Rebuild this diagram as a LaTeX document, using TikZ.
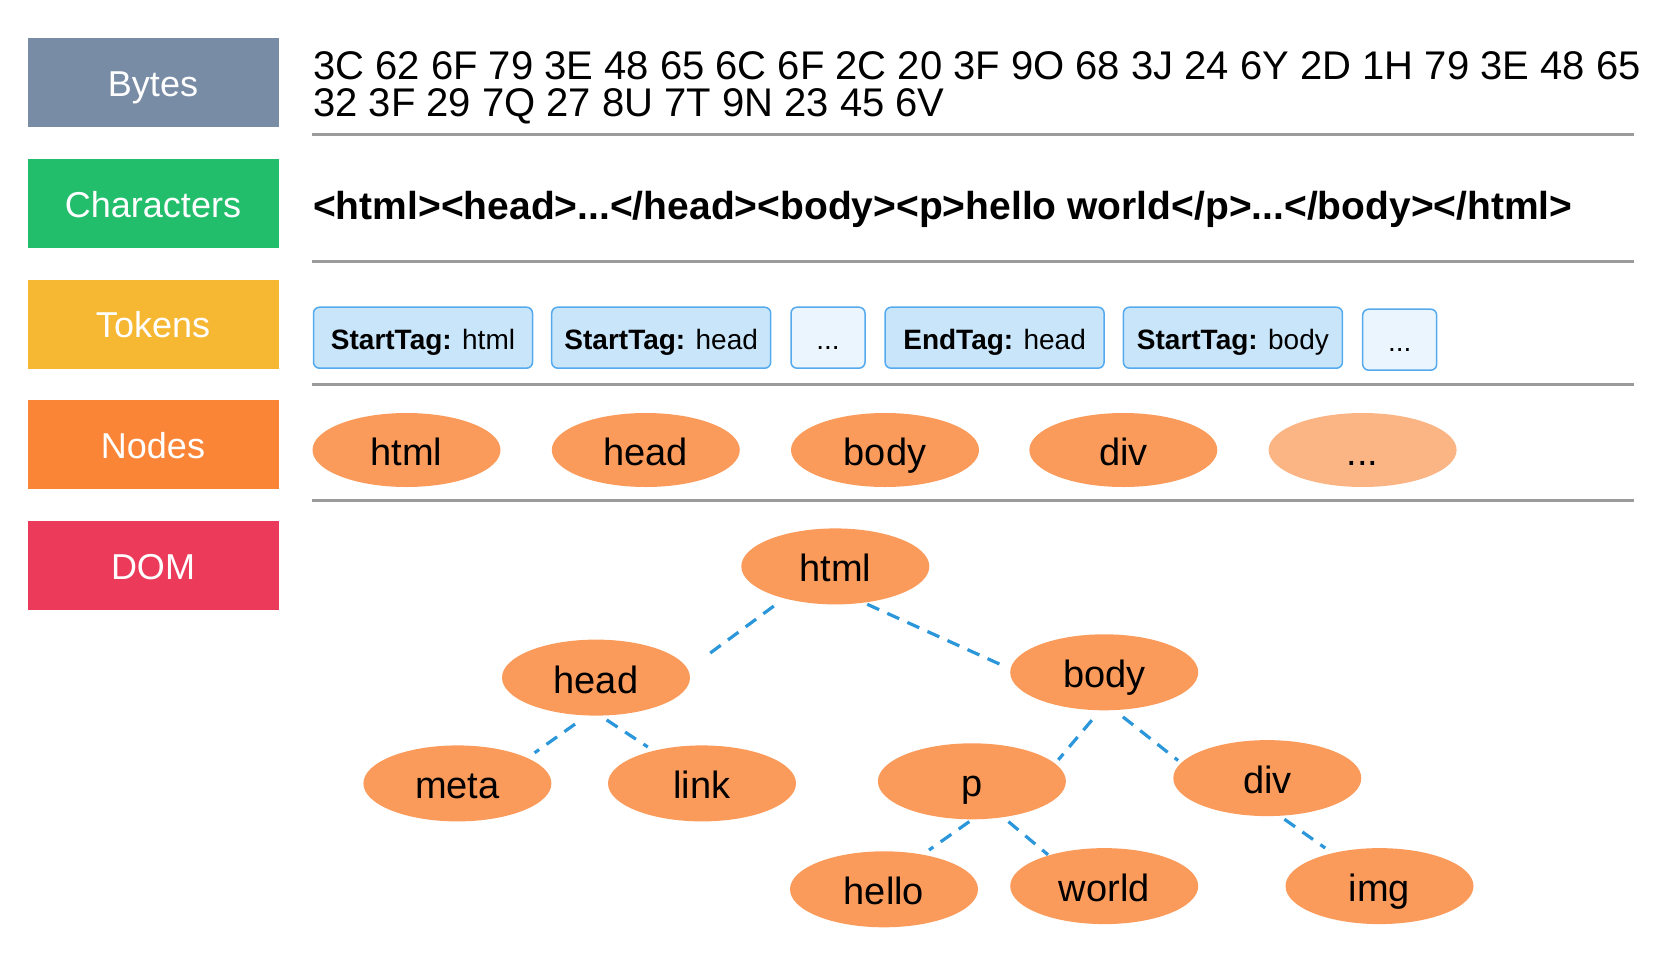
\documentclass[tikz,border=0pt]{standalone}
\usepackage{fontspec}
\setmainfont{Liberation Sans}
\usetikzlibrary{shapes.geometric}

\definecolor{BytesColor}{HTML}{788CA6}
\definecolor{CharsColor}{HTML}{22BE6C}
\definecolor{TokensColor}{HTML}{F6B733}
\definecolor{NodesColor}{HTML}{FB8537}
\definecolor{DomColor}{HTML}{EB3A5A}
\definecolor{EllFill}{HTML}{FB9B5B}
\definecolor{EllFaded}{HTML}{FBB585}
\definecolor{TokFill}{HTML}{C8E5FA}
\definecolor{TokLight}{HTML}{EAF5FD}
\definecolor{TokBorder}{HTML}{55AAEE}
\definecolor{EdgeBlue}{HTML}{2B96DA}
\definecolor{RuleGray}{HTML}{9B9B9B}

\begin{document}
\begin{tikzpicture}[x = 1pt, y = 1pt]
\tikzstyle{LabelBox}=[shape = rectangle, minimum width = 251pt, minimum height = 89pt,
                      inner sep = 0pt, text height = 27.5pt, text depth = 0pt,
                      text = white, font = \fontsize{36}{40}\selectfont]
\tikzstyle{TokenStyle}=[shape = rectangle, rounded corners = 6pt, draw = TokBorder,
                        line width = 1.5pt, fill = TokFill, minimum width = 219pt,
                        minimum height = 61pt, inner sep = 0pt,
                        text height = 23pt, text depth = 0pt,
                        font = \fontsize{28}{32}\selectfont]
\tikzstyle{VertexStyle}=[shape = ellipse, fill = EllFill, minimum width = 188pt,
                         minimum height = 76pt, inner sep = 0pt, outer sep = 0pt,
                         text height = 31pt, text depth = 0pt,
                         font = \fontsize{38}{42}\selectfont]
\tikzstyle{EdgeStyle}=[draw = EdgeBlue, line width = 3.2pt, dash pattern = on 13pt off 9pt]
\tikzstyle{RuleStyle}=[draw = RuleGray, line width = 3pt]

\useasboundingbox (0, 0) rectangle (1660, -975);

% left column
\node[LabelBox, fill = BytesColor] (bytes) at (153, -82.5) {Bytes};
\node[LabelBox, fill = CharsColor] (chars) at (153, -203.25) {Characters};
\node[LabelBox, fill = TokensColor] (tokens) at (153, -324) {Tokens};
\node[LabelBox, fill = NodesColor] (nodes) at (153, -444.75) {Nodes};
\node[LabelBox, fill = DomColor] (dom) at (153, -565.5) {DOM};

% rules
\draw[RuleStyle] (312, -134.5) -- (1634, -134.5);
\draw[RuleStyle] (312, -261.5) -- (1634, -261.5);
\draw[RuleStyle] (312, -384.3) -- (1634, -384.3);
\draw[RuleStyle] (312, -500.8) -- (1634, -500.8);

% bytes and characters
\node[anchor = north west, inner sep = 0pt, align = left,
      font = \fontsize{40}{37}\selectfont] (hex) at (313, -51)
  {3C 62 6F 79 3E 48 65 6C 6F 2C 20 3F 9O 68 3J 24 6Y 2D 1H 79 3E 48 65\\
   32 3F 29 7Q 27 8U 7T 9N 23 45 6V};
\node[anchor = base west, inner sep = 0pt, font = \fontsize{39}{42}\selectfont\bfseries]
  (text) at (313, -219) {<html><head>...</head><body><p>hello world</p>...</body></html>};

% tokens
\node[TokenStyle] (t0) at (423, -337.7) {\textbf{StartTag:} html};
\node[TokenStyle] (t1) at (661.2, -337.7) {\textbf{StartTag:} head};
\node[TokenStyle, fill = TokLight, minimum width = 74pt] (t2) at (828, -337.7) {...};
\node[TokenStyle] (t3) at (994.6, -337.7) {\textbf{EndTag:} head};
\node[TokenStyle] (t4) at (1232.9, -337.7) {\textbf{StartTag:} body};
\node[TokenStyle, fill = TokLight, minimum width = 74pt] (t5) at (1399.7, -339.7) {...};

% nodes
\node[VertexStyle, minimum height = 74pt] (n0) at (406.5, -450) {html};
\node[VertexStyle, minimum height = 74pt] (n1) at (645.8, -450) {head};
\node[VertexStyle, minimum height = 74pt] (n2) at (885, -450) {body};
\node[VertexStyle, minimum height = 74pt] (n3) at (1123.3, -450) {div};
\node[VertexStyle, minimum height = 74pt, fill = EllFaded] (n4) at (1362.6, -450) {...};

% dom tree
\node[VertexStyle] (html) at (835.3, -566.4) {html};
\node[VertexStyle] (head) at (596, -677.6) {head};
\node[VertexStyle] (body) at (1104.2, -672.3) {body};
\node[VertexStyle] (meta) at (457.4, -783.4) {meta};
\node[VertexStyle] (link) at (702, -783.4) {link};
\node[VertexStyle] (p) at (971.9, -781.3) {p};
\node[VertexStyle] (div) at (1267.3, -778.1) {div};
\node[VertexStyle] (hello) at (884, -889.3) {hello};
\node[VertexStyle] (world) at (1104.2, -886.1) {world};
\node[VertexStyle] (img) at (1379.5, -886.1) {img};

\draw[EdgeStyle, shorten < = 13pt, shorten > = 21pt] (html.212) -- (head.5);
\draw[EdgeStyle, shorten < = 4pt, shorten > = 12pt] (html.308) -- (body.178);
\draw[EdgeStyle, shorten < = 15pt, shorten > = 9pt] (head.257) -- (meta.20);
\draw[EdgeStyle, shorten < = 8pt, shorten > = 7pt] (head.276) -- (link.146);
\draw[EdgeStyle, shorten < = 13pt, shorten > = 5pt] (body.264) -- (p.12);
\draw[EdgeStyle, shorten < = 11pt, shorten > = 4pt] (body.285) -- (div.170);
\draw[EdgeStyle, shorten < = 4pt, shorten > = 8pt] (p.271) -- (hello.42);
\draw[EdgeStyle, shorten < = 7pt, shorten > = 1pt] (p.311) -- (world.151);
\draw[EdgeStyle, shorten < = 6pt, shorten > = 9pt] (div.288) -- (img.145);
\end{tikzpicture}
\end{document}
